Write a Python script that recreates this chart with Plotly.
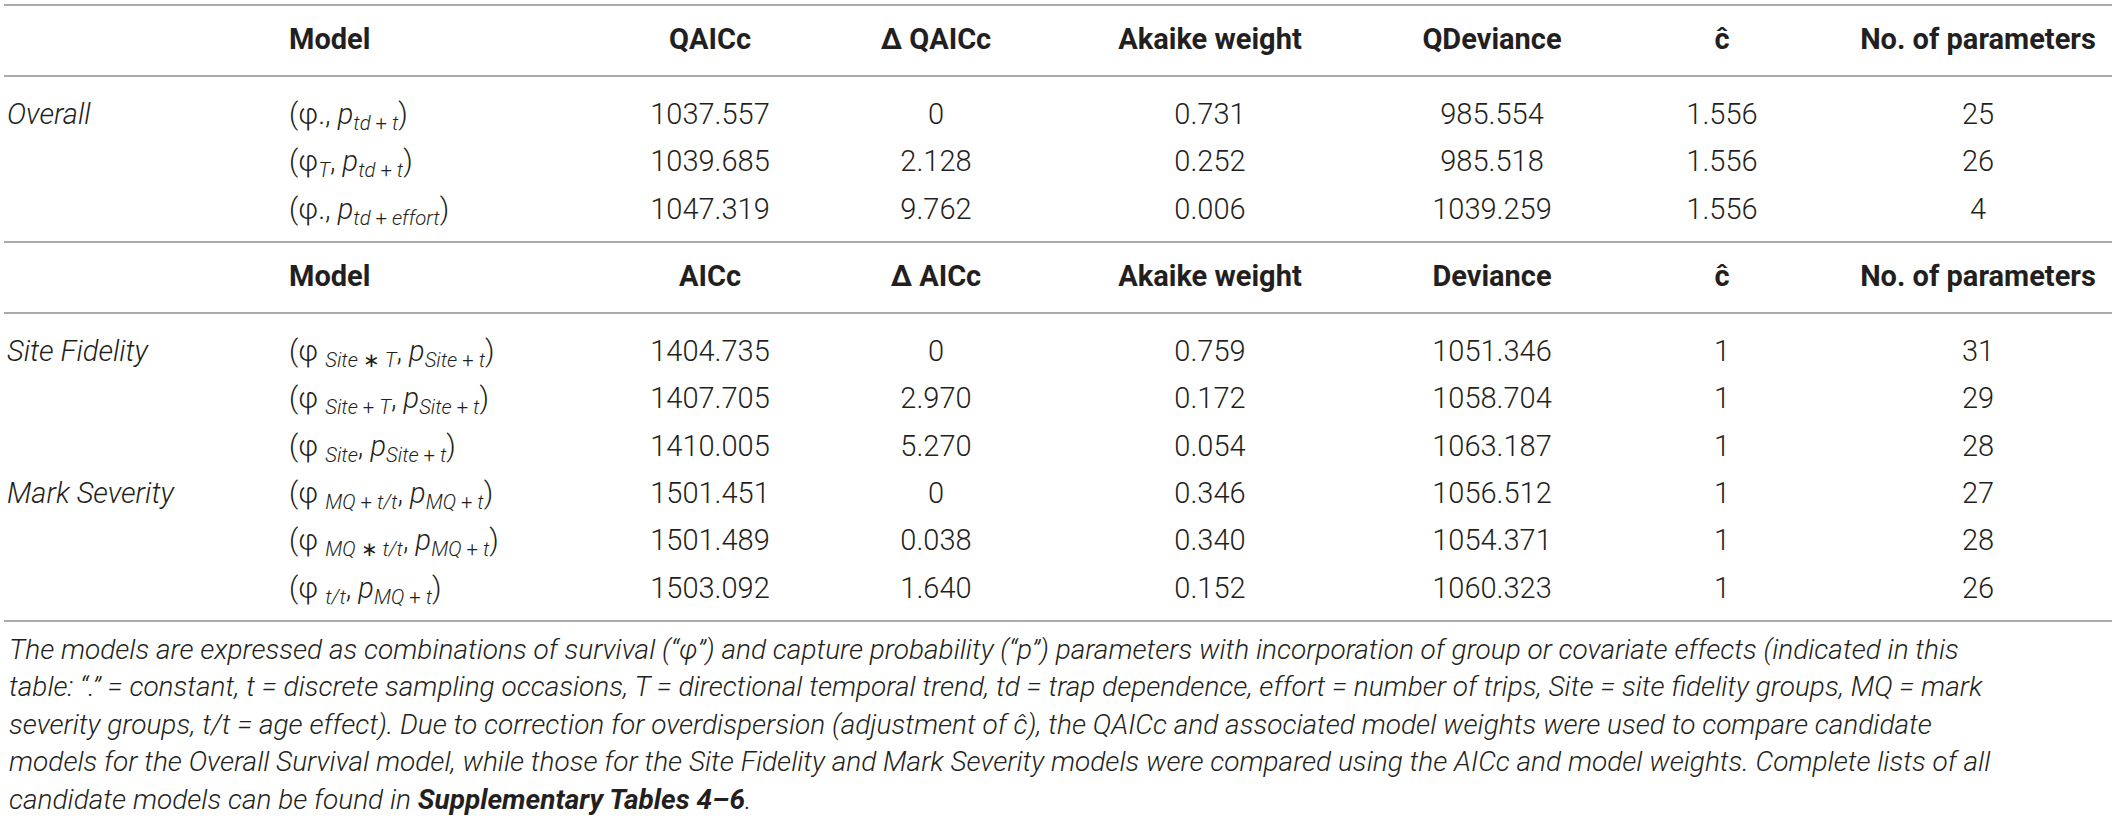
import plotly.graph_objects as go

# ---- table content ----
headers_a = ["Model", "QAICc", "Δ QAICc", "Akaike weight", "QDeviance", "ĉ", "No. of parameters"]
headers_b = ["Model", "AICc", "Δ AICc", "Akaike weight", "Deviance", "ĉ", "No. of parameters"]

groups_a = ["Overall", "", ""]
models_a = [
    "(φ., <i>p</i><sub><i>td</i> + <i>t</i></sub>)",
    "(φ<sub><i>T</i></sub>, <i>p</i><sub><i>td</i> + <i>t</i></sub>)",
    "(φ., <i>p</i><sub><i>td</i> + <i>effort</i></sub>)",
]
ic_a = ["1037.557", "1039.685", "1047.319"]
delta_a = ["0", "2.128", "9.762"]
weight_a = ["0.731", "0.252", "0.006"]
dev_a = ["985.554", "985.518", "1039.259"]
chat_a = ["1.556", "1.556", "1.556"]
npar_a = ["25", "26", "4"]

groups_b = ["Site Fidelity", "", "", "Mark Severity", "", ""]
models_b = [
    "(φ <sub><i>Site</i> ∗ <i>T</i></sub>, <i>p</i><sub><i>Site</i> + <i>t</i></sub>)",
    "(φ <sub><i>Site</i> + <i>T</i></sub>, <i>p</i><sub><i>Site</i> + <i>t</i></sub>)",
    "(φ <sub><i>Site</i></sub>, <i>p</i><sub><i>Site</i> + <i>t</i></sub>)",
    "(φ <sub><i>MQ</i> + <i>t/t</i></sub>, <i>p</i><sub><i>MQ</i> + <i>t</i></sub>)",
    "(φ <sub><i>MQ</i> ∗ <i>t/t</i></sub>, <i>p</i><sub><i>MQ</i> + <i>t</i></sub>)",
    "(φ <sub><i>t/t</i></sub>, <i>p</i><sub><i>MQ</i> + <i>t</i></sub>)",
]
ic_b = ["1404.735", "1407.705", "1410.005", "1501.451", "1501.489", "1503.092"]
delta_b = ["0", "2.970", "5.270", "0", "0.038", "1.640"]
weight_b = ["0.759", "0.172", "0.054", "0.346", "0.340", "0.152"]
dev_b = ["1051.346", "1058.704", "1063.187", "1056.512", "1054.371", "1060.323"]
chat_b = ["1", "1", "1", "1", "1", "1"]
npar_b = ["31", "29", "28", "27", "28", "26"]

footnote = [
    "The models are expressed as combinations of survival (“φ”) and capture probability (“p”) parameters with incorporation of group or covariate effects (indicated in this",
    "table: “.” = constant, t = discrete sampling occasions, T = directional temporal trend, td = trap dependence, effort = number of trips, Site = site fidelity groups, MQ = mark",
    "severity groups, t/t = age effect). Due to correction for overdispersion (adjustment of ĉ), the QAICc and associated model weights were used to compare candidate",
    "models for the Overall Survival model, while those for the Site Fidelity and Mark Severity models were compared using the AICc and model weights. Complete lists of all",
    "candidate models can be found in <b>Supplementary Tables 4–6</b>.",
]

# ---- layout geometry (page pixels) ----
W, H = 2119, 820
GROUP_X = 7
MODEL_X = 289
NUM_X = [710, 936, 1210, 1492, 1722, 1978]   # centres of the numeric columns
RULE_X0, RULE_X1 = 4, 2112
FONT = "Roboto"
INK = "#231f20"
RULE = "#a9abae"

fig = go.Figure()
rules = []


def add_section(top, headers, groups, models, cols, pitch):
    # header row
    fig.add_trace(go.Scatter(
        x=[MODEL_X] + NUM_X, y=[top + 37] * 7, mode="text",
        text=[f"<b>{h}</b>" for h in headers],
        textposition=["middle right"] + ["middle center"] * 6,
        textfont=dict(family=FONT, size=29, color=INK, weight=700),
        hoverinfo="skip"))
    rule = top + 71
    rules.append(rule)
    ys = [rule + 40.5 + pitch * i for i in range(len(models))]
    # group labels (only where a group starts) + model formulas, left aligned
    gx = [GROUP_X for g in groups if g]
    gy = [y for g, y in zip(groups, ys) if g]
    gt = [f"<i>{g}</i>" for g in groups if g]
    fig.add_trace(go.Scatter(
        x=gx + [MODEL_X] * len(models), y=gy + ys, mode="text",
        text=gt + models, textposition="middle right",
        textfont=dict(family=FONT, size=29, color=INK, weight=300),
        hoverinfo="skip"))
    # numeric columns
    xs, yy, tt = [], [], []
    for cx, col in zip(NUM_X, cols):
        xs += [cx] * len(col)
        yy += ys
        tt += col
    fig.add_trace(go.Scatter(
        x=xs, y=yy, mode="text", text=tt, textposition="middle center",
        textfont=dict(family=FONT, size=29, color=INK, weight=300),
        hoverinfo="skip"))
    bottom = ys[-1] + 30.5
    rules.append(bottom)
    return bottom


rules.append(5)
mid = add_section(5, headers_a, groups_a, models_a,
                  [ic_a, delta_a, weight_a, dev_a, chat_a, npar_a], 47.5)
end = add_section(mid, headers_b, groups_b, models_b,
                  [ic_b, delta_b, weight_b, dev_b, chat_b, npar_b], 47.4)

for r in rules:
    fig.add_shape(type="line", xref="x", yref="y", x0=RULE_X0, x1=RULE_X1, y0=r, y1=r,
                  line=dict(color=RULE, width=2))

for i, line in enumerate(footnote):
    fig.add_annotation(
        x=GROUP_X, y=end + 28 + 37.5 * i, xref="x", yref="y",
        xanchor="left", yanchor="middle", showarrow=False,
        text=f"<i>{line}</i>",
        font=dict(family=FONT, size=28, color=INK, weight=300))

fig.update_xaxes(range=[0, W], visible=False, fixedrange=True)
fig.update_yaxes(range=[H, 0], visible=False, fixedrange=True)
fig.update_layout(
    width=W, height=H, showlegend=False,
    margin=dict(l=0, r=0, t=0, b=0),
    paper_bgcolor="white", plot_bgcolor="white",
)
fig.write_html("out.html", config={"displayModeBar": False},
               post_script="document.body.style.margin='0';")
